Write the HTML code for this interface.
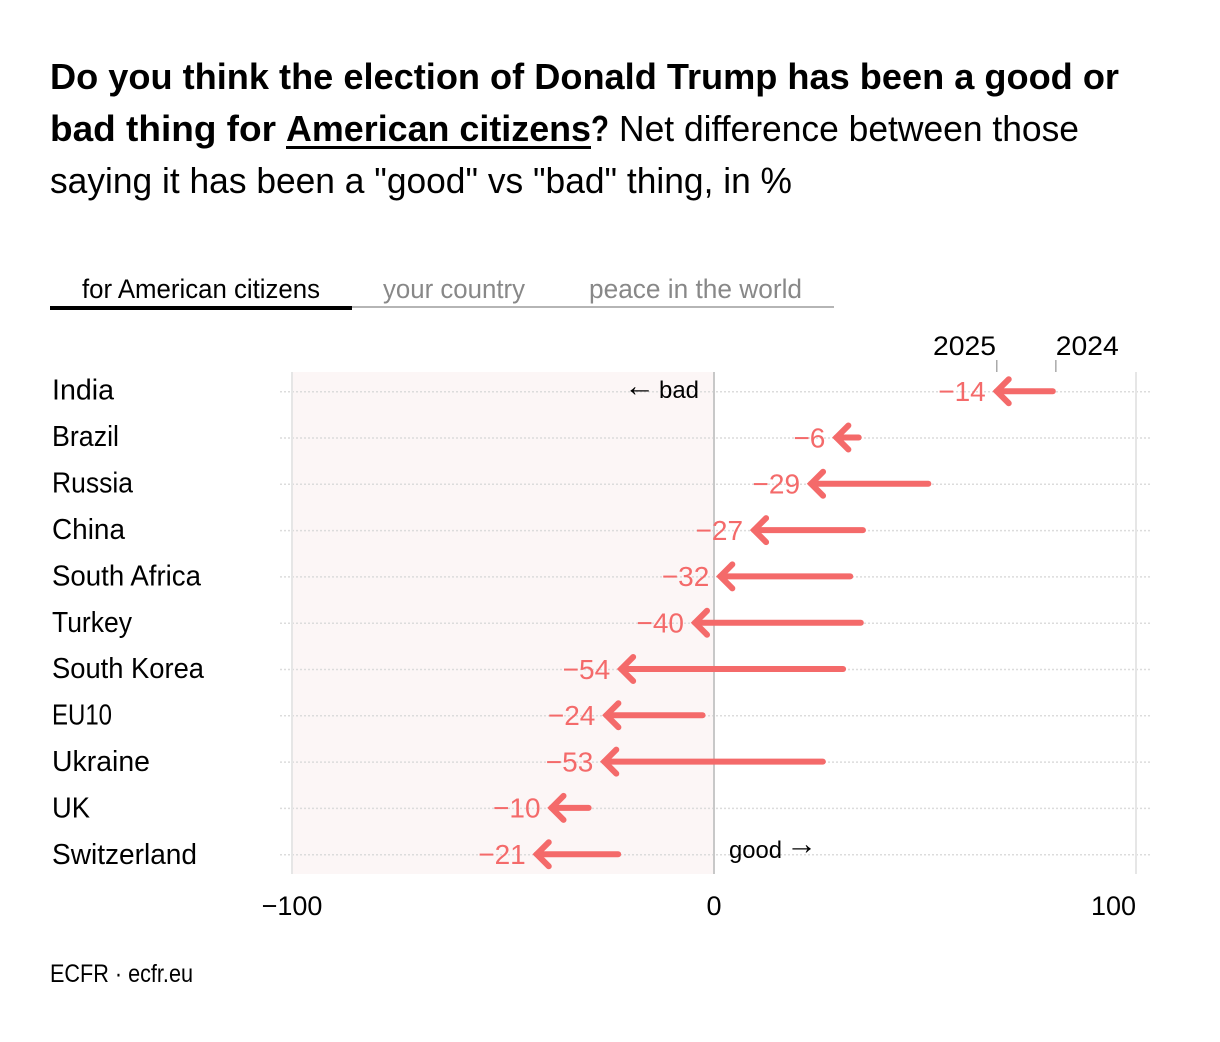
<!DOCTYPE html>
<html lang="en">
<head>
<meta charset="utf-8">
<title>Trump election net difference chart</title>
<style>
html,body{margin:0;padding:0;background:#fff;width:1220px;height:1042px;overflow:hidden}
svg{display:block}
text{font-family:"Liberation Sans",sans-serif;fill:#000}
.title{font-size:36px}
.b{font-weight:700}
.tab{font-size:27px}
.country{font-size:29px}
.axis{font-size:27px}
.val{font-size:28px;fill:#f46a6a;text-anchor:end}
.note{font-size:24px}
.glyph{font-size:31px}
</style>
</head>
<body>
<svg id="chart" xmlns="http://www.w3.org/2000/svg" width="1220" height="1042" viewBox="0 0 1220 1042">
  <rect width="1220" height="1042" fill="#fff"/>
  <g>
    <text class="title b" x="50" y="89" textLength="1069" lengthAdjust="spacingAndGlyphs">Do you think the election of Donald Trump has been a good or</text>
    <text class="title b" x="50" y="141" textLength="226" lengthAdjust="spacingAndGlyphs">bad thing for</text>
    <text class="title b" x="286" y="141" textLength="305" lengthAdjust="spacingAndGlyphs">American citizens</text>
    <rect x="286" y="146" width="305" height="3" fill="#000"/>
    <text class="title b" x="591" y="141" textLength="18" lengthAdjust="spacingAndGlyphs">?</text>
    <text class="title" x="619" y="141" textLength="460" lengthAdjust="spacingAndGlyphs">Net difference between those</text>
    <text class="title" x="50" y="193" textLength="742" lengthAdjust="spacingAndGlyphs">saying it has been a "good" vs "bad" thing, in %</text>
  </g>
  <g>
    <rect x="352" y="306" width="482" height="2" fill="#b5b5b5"/>
    <rect x="50" y="306" width="302" height="4" fill="#000"/>
    <text class="tab" x="82" y="298" textLength="238" lengthAdjust="spacingAndGlyphs">for American citizens</text>
    <text class="tab" x="383" y="298" textLength="142" lengthAdjust="spacingAndGlyphs" style="fill:#888">your country</text>
    <text class="tab" x="589" y="298" textLength="213" lengthAdjust="spacingAndGlyphs" style="fill:#888">peace in the world</text>
  </g>
  <rect x="292" y="372" width="422" height="502" fill="#fcf6f6"/>
  <g id="grid"></g>
  <g id="axis"></g>
  <text class="glyph" x="624" y="396">←</text>
  <text class="note" x="659" y="398" textLength="40" lengthAdjust="spacingAndGlyphs">bad</text>
  <text class="note" x="729" y="858" textLength="53" lengthAdjust="spacingAndGlyphs">good</text>
  <text class="glyph" x="786" y="854">→</text>
  <g id="rows"></g>
  <g id="years"></g>
  <text x="50" y="982" font-size="25" textLength="143" lengthAdjust="spacingAndGlyphs">ECFR · ecfr.eu</text>
</svg>
<script>
const countries = ["India","Brazil","Russia","China","South Africa","Turkey","South Korea","EU10","Ukraine","UK","Switzerland"];
const values2024 = [81,35,51.5,36,33,35.5,31.3,-2,26.5,-29,-22];
const values2025 = [67,29,23,9.5,1.5,-4.5,-22,-25.5,-26,-38.5,-42];
const changeLabels = ["−14","−6","−29","−27","−32","−40","−54","−24","−53","−10","−21"];
const axisTicks = [-100,0,100];
const axisTickLabels = ["−100","0","100"];
const yearLabels = ["2025","2024"];

const NS = "http://www.w3.org/2000/svg";
const plotLeft = 292, plotRight = 1136, rowTop = 391.7, rowStep = 46.3;
const labelTop = 399.5, labelStep = 46.45;
const domainMin = -100, domainMax = 100;
const x = v => plotLeft + (v - domainMin) / (domainMax - domainMin) * (plotRight - plotLeft);
const y = i => rowTop + i * rowStep;
const countryWidths = {India:62,Brazil:67,Russia:81,China:73,"South Africa":149,Turkey:80,"South Korea":152,EU10:60,Ukraine:98,UK:38,Switzerland:145};

function mk(tag, attrs, parent, txt) {
  const el = document.createElementNS(NS, tag);
  for (const k in attrs) el.setAttribute(k, attrs[k]);
  if (txt !== undefined) el.textContent = txt;
  parent.appendChild(el);
  return el;
}

const grid = document.getElementById("grid");
countries.forEach((c, i) => {
  const line = mk("line", {x1:280, x2:1150, y1:y(i), y2:y(i), stroke:"#dcdcdc", "stroke-width":1.5, "stroke-dasharray":"2 2"}, grid);
  
  
});

const axis = document.getElementById("axis");
axisTicks.forEach((t, i) => {
  const rule = mk("line", {x1:x(t), x2:x(t), y1:372, y2:874, stroke: t === 0 ? "#c8c8c8" : "#e6e6e6", "stroke-width":2}, axis);
  
  
  const anchor = t === domainMax ? "end" : "middle";
  const label = mk("text", {class:"axis", x:x(t), y:915, "text-anchor":anchor}, axis, axisTickLabels[i]);
  
  
});

const rows = document.getElementById("rows");
countries.forEach((c, i) => {
  const yy = y(i);
  const name = mk("text", {class:"country", x:52, y:labelTop + i * labelStep, textLength:countryWidths[c], lengthAdjust:"spacingAndGlyphs"}, rows, c);
  
  

  const tip = x(values2025[i]), tail = x(values2024[i]), ay = yy - 0.5;
  const g = mk("g", {}, rows);
  
  
  mk("line", {x1:tip, y1:ay, x2:tail - 3, y2:ay, stroke:"#f46a6a", "stroke-width":6, "stroke-linecap":"round"}, g);
  mk("polyline", {points:`${tip + 12},${ay - 12} ${tip},${ay} ${tip + 12},${ay + 12}`, fill:"none", stroke:"#f46a6a", "stroke-width":6, "stroke-linecap":"round", "stroke-linejoin":"miter"}, g);

  const val = mk("text", {class:"val", x:tip - 11, y:yy + 9.3}, rows, changeLabels[i]);
  
  
});

const years = document.getElementById("years");
yearLabels.forEach((label, i) => {
  const last = i === 0 ? values2025[0] : values2024[0];
  const px = x(last);
  const tick = mk("line", {x1:px, x2:px, y1:360, y2:372, stroke:"#aaa", "stroke-width":1.5}, years);
  
  
  const t = mk("text", {class:"axis", x: i === 0 ? px - 63.7 : px, y:355, textLength:63, lengthAdjust:"spacingAndGlyphs"}, years, label);
  
  
});
</script>
</body>
</html>
